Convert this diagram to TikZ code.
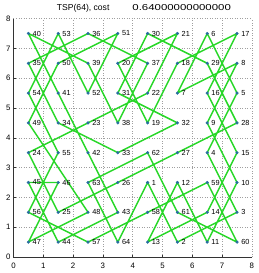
\documentclass[tikz,border=0pt]{standalone}
\usepackage{tikz}
\usepackage{xcolor}
\usepackage{fontspec}
\setmainfont{Liberation Sans}
\usetikzlibrary{backgrounds}
\definecolor{tourgreen}{RGB}{40,215,40}
\definecolor{citycol}{RGB}{40,110,160}

\begin{document}
\begin{tikzpicture}[
  city/.style={circle,draw=citycol,fill=citycol,inner sep=0pt,minimum size=2.6pt},
  every label/.style={font=\fontsize{7}{8}\selectfont,inner sep=0pt},
  label distance=2.4pt,
  ticklab/.style={font=\fontsize{7.5}{9}\selectfont,inner sep=0pt},
  tour/.style={draw=tourgreen,line width=1.4pt,line join=round},
  gridline/.style={gray!75,line width=0.5pt,dash pattern=on 0.6pt off 1.8pt}
]
  \useasboundingbox (-0.453,-0.537) rectangle (8.238,8.624);
  % axes, ticks and labels
  \draw[black!80,line width=0.5pt] (0,8) -- (0,0) -- (8,0);
  \foreach \i in {1,...,7} {
    \draw[black!80,line width=0.5pt] (\i,0) -- (\i,0.08);
    \draw[black!80,line width=0.5pt] (0,\i) -- (0.08,\i);
  }
  \foreach \i in {0,...,8} {
    \node[ticklab] (xt\i) at (\i,-0.30) {\i};
    \node[ticklab,anchor=east] (yt\i) at (-0.09,\i) {\i};
  }
  \node[font=\fontsize{8.2}{10}\selectfont,inner sep=0pt,anchor=base west] (title) at (1.45,8.28)
    {TSP(64), cost\hspace{22pt}{\addfontfeature{FakeStretch=1.33}0.64000000000000}};
  % cities, numbered in tour order
  \node[city,label=right:1] (c1) at (4.5,2.5) {};
  \node[city,label=right:2] (c2) at (5.5,0.5) {};
  \node[city,label=right:3] (c3) at (7.5,1.5) {};
  \node[city,label=right:4] (c4) at (6.5,3.5) {};
  \node[city,label=right:5] (c5) at (7.5,5.5) {};
  \node[city,label=right:6] (c6) at (6.5,7.5) {};
  \node[city,label=right:7] (c7) at (5.5,5.5) {};
  \node[city,label=right:8] (c8) at (7.5,6.5) {};
  \node[city,label=right:9] (c9) at (6.5,4.5) {};
  \node[city,label=right:10] (c10) at (7.5,2.5) {};
  \node[city,label=right:11] (c11) at (6.5,0.5) {};
  \node[city,label=right:12] (c12) at (5.5,2.5) {};
  \node[city,label=right:13] (c13) at (4.5,0.5) {};
  \node[city,label=right:14] (c14) at (6.5,1.5) {};
  \node[city,label=right:15] (c15) at (7.5,3.5) {};
  \node[city,label=right:16] (c16) at (6.5,5.5) {};
  \node[city,label=right:17] (c17) at (7.5,7.5) {};
  \node[city,label=right:18] (c18) at (5.5,6.5) {};
  \node[city,label=right:19] (c19) at (4.5,4.5) {};
  \node[city,label=right:20] (c20) at (3.5,6.5) {};
  \node[city,label=right:21] (c21) at (5.5,7.5) {};
  \node[city,label=right:22] (c22) at (4.5,5.5) {};
  \node[city,label=right:23] (c23) at (2.5,4.5) {};
  \node[city,label=right:24] (c24) at (0.5,3.5) {};
  \node[city,label=right:25] (c25) at (1.5,1.5) {};
  \node[city,label=right:26] (c26) at (3.5,2.5) {};
  \node[city,label=right:27] (c27) at (5.5,3.5) {};
  \node[city,label=right:28] (c28) at (7.5,4.5) {};
  \node[city,label=right:29] (c29) at (6.5,6.5) {};
  \node[city,label=right:30] (c30) at (4.5,7.5) {};
  \node[city,label=right:31] (c31) at (3.5,5.5) {};
  \node[city,label=right:32] (c32) at (5.5,4.5) {};
  \node[city,label=right:33] (c33) at (3.5,3.5) {};
  \node[city,label=right:34] (c34) at (1.5,4.5) {};
  \node[city,label=right:35] (c35) at (0.5,6.5) {};
  \node[city,label=right:36] (c36) at (2.5,7.5) {};
  \node[city,label=right:37] (c37) at (4.5,6.5) {};
  \node[city,label=right:38] (c38) at (3.5,4.5) {};
  \node[city,label=right:39] (c39) at (2.5,6.5) {};
  \node[city,label=right:40] (c40) at (0.5,7.5) {};
  \node[city,label=right:41] (c41) at (1.5,5.5) {};
  \node[city,label=right:42] (c42) at (2.5,3.5) {};
  \node[city,label=right:43] (c43) at (3.5,1.5) {};
  \node[city,label=right:44] (c44) at (1.5,0.5) {};
  \node[city,label=right:45] (c45) at (0.5,2.5) {};
  \node[city,label=right:46] (c46) at (1.5,2.5) {};
  \node[city,label=right:47] (c47) at (0.5,0.5) {};
  \node[city,label=right:48] (c48) at (2.5,1.5) {};
  \node[city,label=right:49] (c49) at (0.5,4.5) {};
  \node[city,label=right:50] (c50) at (1.5,6.5) {};
  \node[city,label=right:51] (c51) at (3.5,7.5) {};
  \node[city,label=right:52] (c52) at (2.5,5.5) {};
  \node[city,label=right:53] (c53) at (1.5,7.5) {};
  \node[city,label=right:54] (c54) at (0.5,5.5) {};
  \node[city,label=right:55] (c55) at (1.5,3.5) {};
  \node[city,label=right:56] (c56) at (0.5,1.5) {};
  \node[city,label=right:57] (c57) at (2.5,0.5) {};
  \node[city,label=right:58] (c58) at (4.5,1.5) {};
  \node[city,label=right:59] (c59) at (6.5,2.5) {};
  \node[city,label=right:60] (c60) at (7.5,0.5) {};
  \node[city,label=right:61] (c61) at (5.5,1.5) {};
  \node[city,label=right:62] (c62) at (4.5,3.5) {};
  \node[city,label=right:63] (c63) at (2.5,2.5) {};
  \node[city,label=right:64] (c64) at (3.5,0.5) {};
  % grid and tour go behind the cities
  \begin{scope}[on background layer]
    \foreach \i in {1,...,8} {
      \draw[gridline] (\i,0) -- (\i,8);
      \draw[gridline] (0,\i) -- (8,\i);
    }
    \draw[tour] (c1.center) -- (c2.center) -- (c3.center) -- (c4.center) -- (c5.center) -- (c6.center) -- (c7.center) -- (c8.center)
      -- (c9.center) -- (c10.center) -- (c11.center) -- (c12.center) -- (c13.center) -- (c14.center) -- (c15.center) -- (c16.center)
      -- (c17.center) -- (c18.center) -- (c19.center) -- (c20.center) -- (c21.center) -- (c22.center) -- (c23.center) -- (c24.center)
      -- (c25.center) -- (c26.center) -- (c27.center) -- (c28.center) -- (c29.center) -- (c30.center) -- (c31.center) -- (c32.center)
      -- (c33.center) -- (c34.center) -- (c35.center) -- (c36.center) -- (c37.center) -- (c38.center) -- (c39.center) -- (c40.center)
      -- (c41.center) -- (c42.center) -- (c43.center) -- (c44.center) -- (c45.center) -- (c46.center) -- (c47.center) -- (c48.center)
      -- (c49.center) -- (c50.center) -- (c51.center) -- (c52.center) -- (c53.center) -- (c54.center) -- (c55.center) -- (c56.center)
      -- (c57.center) -- (c58.center) -- (c59.center) -- (c60.center) -- (c61.center) -- (c62.center) -- (c63.center) -- (c64.center)
      -- cycle;
  \end{scope}
\end{tikzpicture}
\end{document}
